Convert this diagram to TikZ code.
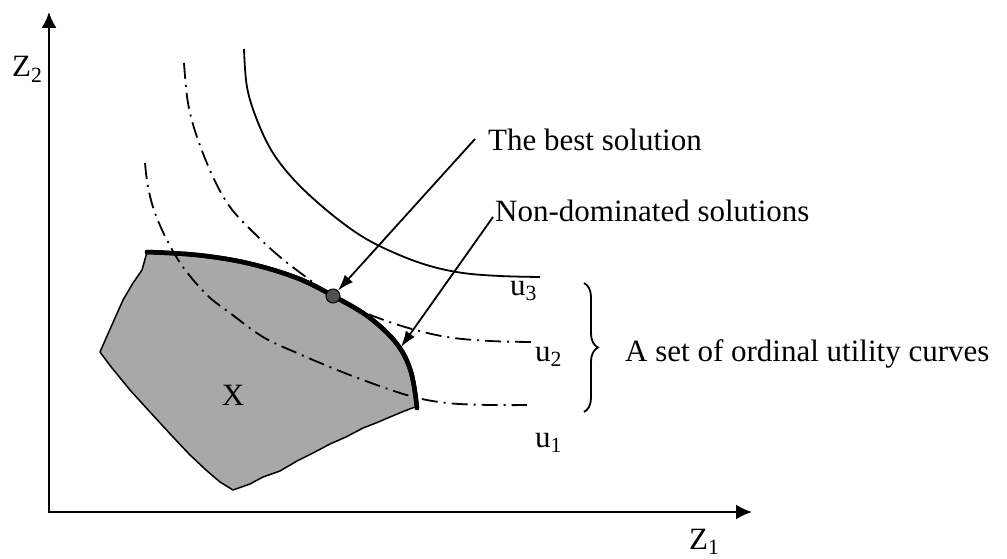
\documentclass[tikz,border=0pt]{standalone}
\usepackage{fontspec}
\setmainfont{Liberation Serif}
\usetikzlibrary{arrows.meta,decorations.pathreplacing}
\definecolor{regiongray}{RGB}{168,168,168}
\definecolor{dotgray}{RGB}{80,80,80}
\tikzset{
  lbl/.style={font=\fontsize{31}{36}\selectfont, inner sep=0pt, anchor=base west},
  axisline/.style={line width=2pt},
  curvesolid/.style={line width=1.8pt},
  curvedash/.style={line width=1.8pt, dash pattern=on 16pt off 6pt on 2pt off 6pt},
  pointer/.style={line width=1.8pt, -{Latex[length=16pt,width=11pt]}},
  frontier/.style={line width=4.5pt, line cap=round},
}
\begin{document}
\begin{tikzpicture}[x=1pt,y=-1pt]
\useasboundingbox (0,0) rectangle (1007,559);
% axes
\coordinate (ytip) at (49,12);
\coordinate (xtip) at (752,512);
\draw[axisline, {Latex[length=16pt,width=15pt]}-{Latex[length=16pt,width=15pt]}] (ytip) |- (xtip);
\node[lbl] (z2) at (12,77) {Z\textsubscript{2}};
\node[lbl] (z1) at (689,549) {Z\textsubscript{1}};
% region X
\fill[regiongray]
  (147,252) -- (142,270) -- (133,283) -- (123,300) -- (115,318) -- (107,336) -- (100,352)
  -- (112,368) -- (130,390) -- (150,412) -- (173,437) -- (190,455) -- (206,470) -- (220,482) -- (233,490)
  -- (250,484) -- (263,477) -- (280,471) -- (297,461) -- (313,453) -- (330,444) -- (346,437)
  -- (363,428) -- (376,423) -- (390,417) -- (402,412) -- (415,407)
  -- (411,372) -- (397,344) -- (370,318) -- (337,298) -- (297,278) -- (247,263) -- (197,255) -- cycle;
\draw[line width=1.5pt, line join=round]
  (147,252) -- (142,270) -- (133,283) -- (123,300) -- (115,318) -- (107,336) -- (100,352)
  -- (112,368) -- (130,390) -- (150,412) -- (173,437) -- (190,455) -- (206,470) -- (220,482) -- (233,490)
  -- (250,484) -- (263,477) -- (280,471) -- (297,461) -- (313,453) -- (330,444) -- (346,437)
  -- (363,428) -- (376,423) -- (390,417) -- (402,412) -- (415,407);
\draw[frontier, fill=regiongray] plot[smooth, tension=0.6] coordinates {(417,408) (411,372) (397,344) (370,318) (337,298) (297,278) (247,263) (197,255) (147,252)};
\draw[frontier] plot[smooth, tension=0.6] coordinates {(417,408) (411,372) (397,344) (370,318) (337,298) (297,278) (247,263) (197,255) (147,252)};
\node[lbl, anchor=base] (xlabel) at (233,405) {X};
% utility curves
\draw[curvedash] plot[smooth, tension=0.6] coordinates {(145,163) (148,187) (155,213) (167,240) (183,267) (207,295) (230,313) (263,337) (297,353) (330,367) (363,380) (410,396) (447,403) (490,405) (527,405)};
\draw[curvedash] plot[smooth, tension=0.6] coordinates {(184,63) (188,103) (197,137) (213,177) (230,207) (253,232) (280,257) (310,280) (335,298) (363,312) (405,327) (447,337) (490,341) (533,342)};
\draw[curvesolid] plot[smooth, tension=0.6] coordinates {(244,49) (247,87) (257,120) (273,153) (297,183) (330,213) (363,237) (397,254) (430,266) (463,273) (500,276) (540,277)};
\node[lbl] (u3) at (510,295) {u\textsubscript{3}};
\node[lbl] (u2) at (535,361) {u\textsubscript{2}};
\node[lbl] (u1) at (535,447) {u\textsubscript{1}};
% best solution
\node[circle, draw, line width=1pt, fill=dotgray, minimum size=14pt, inner sep=0pt] (best) at (333,296) {};
\node[lbl] (bestlabel) at (488,150) {The best solution};
\coordinate (bestfrom) at (475,139);
\draw[pointer] (bestfrom) -- (best);
% non-dominated
\node[lbl] (ndlabel) at (495,222) {Non-dominated solutions};
\coordinate (ndfrom) at (493,217);
\coordinate (ndto) at (401,347);
\draw[pointer] (ndfrom) -- (ndto);
% brace
\coordinate (bracetop) at (584,283);
\coordinate (bracebot) at (584,412);
\draw[line width=1.8pt, decorate, decoration={brace, amplitude=14pt}] (bracetop) -- (bracebot);
\node[lbl] (setlabel) at (625,361) {A set of ordinal utility curves};
\end{tikzpicture}
\end{document}
